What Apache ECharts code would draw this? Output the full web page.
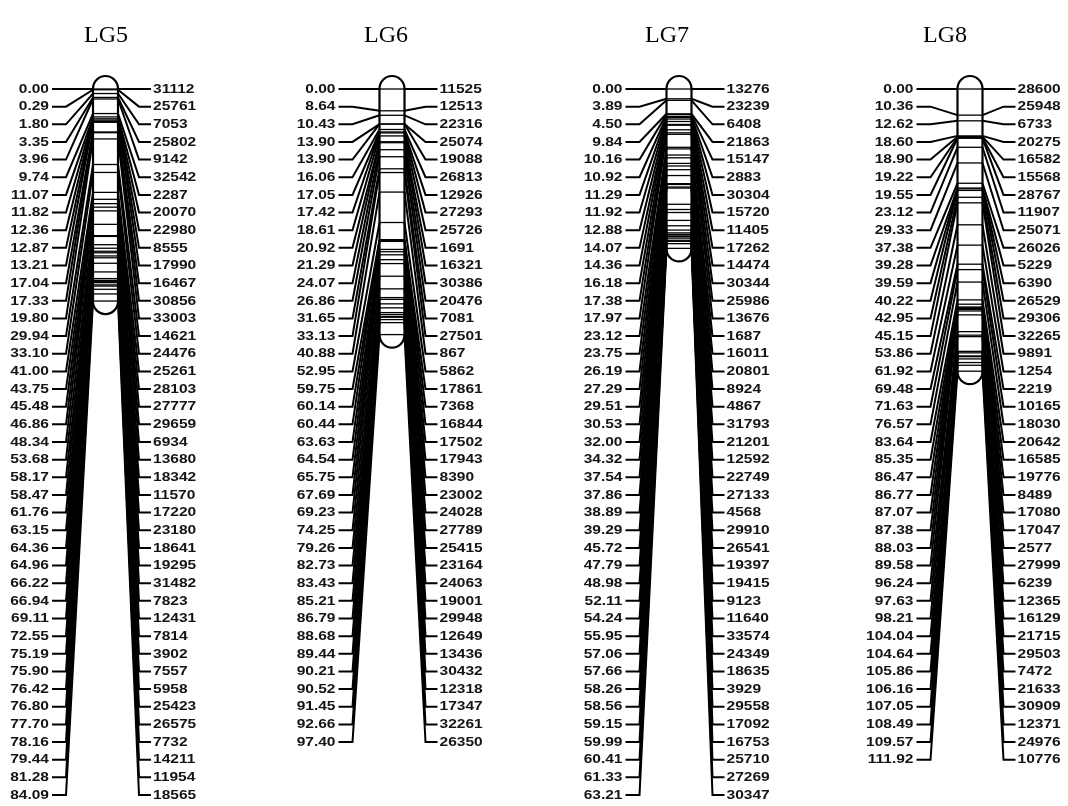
<!DOCTYPE html>
<html>
<head>
<meta charset="utf-8">
<script src="https://cdn.jsdelivr.net/npm/echarts@6/dist/echarts.min.js"></script>
<style>
  html, body { margin: 0; padding: 0; background: #fff; }
  #chart { width: 1068px; height: 806px; }
</style>
</head>
<body>
<div id="chart"></div>
<script>
// 连锁群名称
const groupNames = ['LG5', 'LG6', 'LG7', 'LG8']

// 各连锁群的遗传位置 (cM)
const lg5Pos = [0.00, 0.29, 1.80, 3.35, 3.96, 9.74, 11.07, 11.82, 12.36, 12.87, 13.21, 17.04, 17.33, 19.80, 29.94, 33.10, 41.00, 43.75, 45.48, 46.86, 48.34, 53.68, 58.17, 58.47, 61.76, 63.15, 64.36, 64.96, 66.22, 66.94, 69.11, 72.55, 75.19, 75.90, 76.42, 76.80, 77.70, 78.16, 79.44, 81.28, 84.09]
const lg5Markers = ['31112', '25761', '7053', '25802', '9142', '32542', '2287', '20070', '22980', '8555', '17990', '16467', '30856', '33003', '14621', '24476', '25261', '28103', '27777', '29659', '6934', '13680', '18342', '11570', '17220', '23180', '18641', '19295', '31482', '7823', '12431', '7814', '3902', '7557', '5958', '25423', '26575', '7732', '14211', '11954', '18565']

const lg6Pos = [0.00, 8.64, 10.43, 13.90, 13.90, 16.06, 17.05, 17.42, 18.61, 20.92, 21.29, 24.07, 26.86, 31.65, 33.13, 40.88, 52.95, 59.75, 60.14, 60.44, 63.63, 64.54, 65.75, 67.69, 69.23, 74.25, 79.26, 82.73, 83.43, 85.21, 86.79, 88.68, 89.44, 90.21, 90.52, 91.45, 92.66, 97.40]
const lg6Markers = ['11525', '12513', '22316', '25074', '19088', '26813', '12926', '27293', '25726', '1691', '16321', '30386', '20476', '7081', '27501', '867', '5862', '17861', '7368', '16844', '17502', '17943', '8390', '23002', '24028', '27789', '25415', '23164', '24063', '19001', '29948', '12649', '13436', '30432', '12318', '17347', '32261', '26350']

const lg7Pos = [0.00, 3.89, 4.50, 9.84, 10.16, 10.92, 11.29, 11.92, 12.88, 14.07, 14.36, 16.18, 17.38, 17.97, 23.12, 23.75, 26.19, 27.29, 29.51, 30.53, 32.00, 34.32, 37.54, 37.86, 38.89, 39.29, 45.72, 47.79, 48.98, 52.11, 54.24, 55.95, 57.06, 57.66, 58.26, 58.56, 59.15, 59.99, 60.41, 61.33, 63.21]
const lg7Markers = ['13276', '23239', '6408', '21863', '15147', '2883', '30304', '15720', '11405', '17262', '14474', '30344', '25986', '13676', '1687', '16011', '20801', '8924', '4867', '31793', '21201', '12592', '22749', '27133', '4568', '29910', '26541', '19397', '19415', '9123', '11640', '33574', '24349', '18635', '3929', '29558', '17092', '16753', '25710', '27269', '30347']

const lg8Pos = [0.00, 10.36, 12.62, 18.60, 18.90, 19.22, 19.55, 23.12, 29.33, 37.38, 39.28, 39.59, 40.22, 42.95, 45.15, 53.86, 61.92, 69.48, 71.63, 76.57, 83.64, 85.35, 86.47, 86.77, 87.07, 87.38, 88.03, 89.58, 96.24, 97.63, 98.21, 104.04, 104.64, 105.86, 106.16, 107.05, 108.49, 109.57, 111.92]
const lg8Markers = ['28600', '25948', '6733', '20275', '16582', '15568', '28767', '11907', '25071', '26026', '5229', '6390', '26529', '29306', '32265', '9891', '1254', '2219', '10165', '18030', '20642', '16585', '19776', '8489', '17080', '17047', '2577', '27999', '6239', '12365', '16129', '21715', '29503', '7472', '21633', '30909', '12371', '24976', '10776']

const groupPos = [lg5Pos, lg6Pos, lg7Pos, lg8Pos]
const groupMarkers = [lg5Markers, lg6Markers, lg7Markers, lg8Markers]

// 布局参数
const colCenter = [105.5, 392, 679, 970]
const titleX = [106, 386, 667, 945]
const BAR_W = 25
const SLOT = 7.0 // 标签间距 (cM 单位)
const LABEL_FONT = 'bold 13.5px "Liberation Sans", Arial, sans-serif'
const LABEL_SCALE = 1.15

const chart = echarts.init(document.getElementById('chart'))

const barRender = (cx) => (params, api) => {
  const top = api.coord([cx, api.value(0)])
  const bot = api.coord([cx, api.value(1)])
  return {
    type: 'rect',
    shape: { x: top[0] - BAR_W / 2, y: top[1] - 13, width: BAR_W, height: bot[1] - top[1] + 26, r: 12.5 },
    style: { fill: '#fff', stroke: '#000', lineWidth: 2.2 }
  }
}

const markerRender = (cx, names) => (params, api) => {
  const pos = api.value(0)
  const idx = api.value(1)
  const m = api.coord([cx, pos])
  const l = api.coord([cx, idx * SLOT])
  const bl = m[0] - BAR_W / 2
  const br = m[0] + BAR_W / 2
  const my = m[1]
  const ly = l[1]
  const lineStyle = { stroke: '#000', fill: null, lineWidth: 2 }
  return {
    type: 'group',
    children: [
      { type: 'line', shape: { x1: bl, y1: my, x2: br, y2: my }, style: { stroke: '#000', lineWidth: 1.3 } },
      { type: 'polyline', shape: { points: [[bl, my], [bl - 27, ly], [bl - 41, ly]] }, style: lineStyle },
      { type: 'polyline', shape: { points: [[br, my], [br + 21, ly], [br + 33, ly]] }, style: lineStyle },
      {
        type: 'text', x: bl - 44, y: ly, scaleX: LABEL_SCALE,
        style: { text: pos.toFixed(2), font: LABEL_FONT, fill: '#141414', align: 'right', verticalAlign: 'middle' }
      },
      {
        type: 'text', x: br + 35, y: ly, scaleX: LABEL_SCALE,
        style: { text: names[params.dataIndex], font: LABEL_FONT, fill: '#141414', align: 'left', verticalAlign: 'middle' }
      }
    ]
  }
}

const series = []
groupPos.forEach((pos, g) => {
  series.push({
    type: 'custom',
    z: 2,
    silent: true,
    renderItem: barRender(colCenter[g]),
    data: [[pos[0], pos[pos.length - 1]]]
  })
  series.push({
    type: 'custom',
    z: 3,
    silent: true,
    renderItem: markerRender(colCenter[g], groupMarkers[g]),
    data: pos.map((p, i) => [p, i])
  })
})

const option = {
  animation: false,
  backgroundColor: '#fff',
  grid: { left: 0, right: 0, top: 89, height: 706 },
  xAxis: { type: 'value', min: 0, max: 1068, show: false },
  yAxis: { type: 'value', inverse: true, min: 0, max: 280, show: false },
  graphic: groupNames.map((name, g) => ({
    type: 'text',
    x: titleX[g],
    y: 36,
    style: { text: name, font: '24px "Liberation Serif", serif', fill: '#000', align: 'center', verticalAlign: 'middle' }
  })),
  series
}

chart.setOption(option)
window.addEventListener('resize', () => chart.resize())
</script>
</body>
</html>
